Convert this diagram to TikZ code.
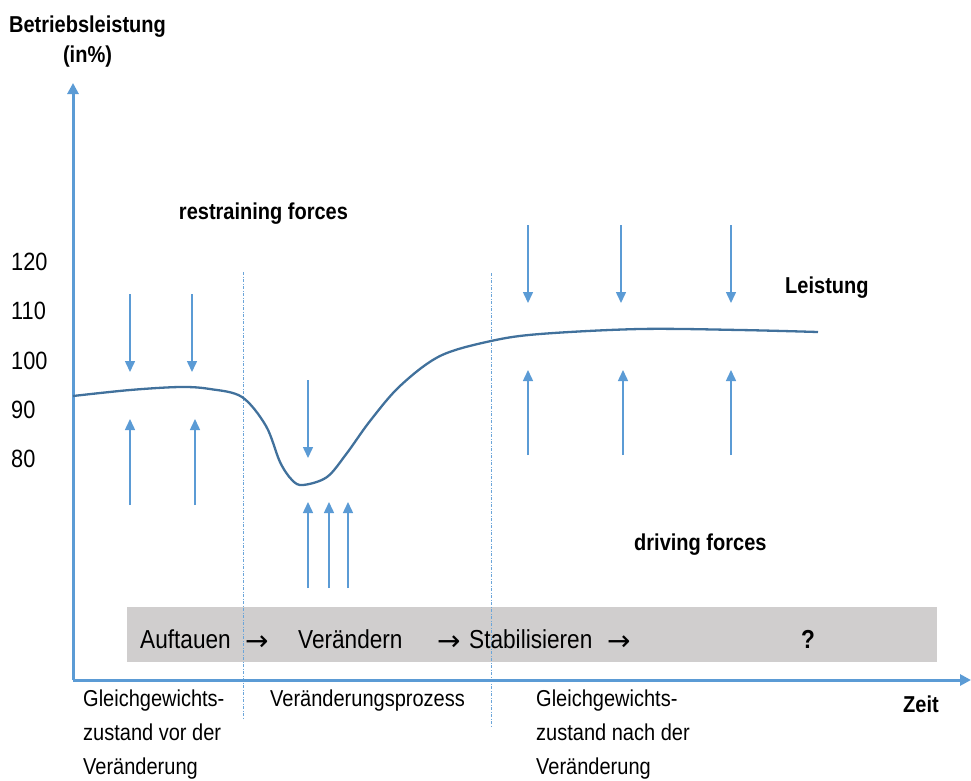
\documentclass[tikz,border=0pt]{standalone}
\usepackage{fontspec}
\setmainfont{Liberation Sans}[FakeStretch=0.87]
\newfontfamily\arrowfont{DejaVu Sans}
\usetikzlibrary{arrows.meta}
\definecolor{axisblue}{HTML}{5B9BD5}
\definecolor{curveblue}{HTML}{41719C}
\definecolor{bargray}{HTML}{D0CECE}
\begin{document}
\begin{tikzpicture}[x=1pt,y=-1pt,
  txt/.style={inner sep=0pt,font=\fontsize{23}{27}\selectfont},
  numtxt/.style={inner sep=0pt,font=\fontsize{25}{29}\selectfont,anchor=base west},
  btxt/.style={inner sep=0pt,font=\fontsize{23}{27}\selectfont\bfseries},
  bartxt/.style={inner sep=0pt,font=\fontsize{26}{30}\selectfont,anchor=base west},
  bararrow/.style={inner sep=0pt,font=\fontsize{28}{32}\arrowfont,anchor=base west},
  axisline/.style={draw=axisblue,line width=3pt,-{Triangle[width=11pt,length=11pt]}},
  force/.style={draw=axisblue,line width=1.5pt,-{Triangle[width=10pt,length=11pt]}},
  divider/.style={draw=axisblue!90,line width=1pt,dash pattern=on 3pt off 1.5pt on 1pt off 1.5pt},
  curve/.style={draw=curveblue,line width=2.3pt}]
\useasboundingbox (0,0) rectangle (971,780);

% gray bar
\node[fill=bargray,minimum width=810pt,minimum height=55pt,inner sep=0pt,anchor=north west] (bar) at (127,607) {};

% dividers
\coordinate (d1t) at (243,272); \coordinate (d1b) at (243,718);
\coordinate (d2t) at (491,273); \coordinate (d2b) at (491,727);
\draw[divider] (d1t) -- (d1b);
\draw[divider] (d2t) -- (d2b);

% axes
\coordinate (origin) at (73,680);
\coordinate (ytip) at (73,83);
\coordinate (xtip) at (971,680);
\draw[axisline] (origin) -- (ytip);
\draw[axisline] (origin) -- (xtip);

% performance curve
\draw[curve] plot[smooth,tension=0.55] coordinates {
 (73,396) (130,390) (180,387) (210,389) (242,397) (266,426) (280,462)
 (292,480) (303,485) (327,477) (347,453) (370,421) (400,386) (440,356)
 (491,341) (540,334) (640,329) (740,330) (818,332)};

% forces: left equilibrium
\foreach \n/\x in {a/130,b/192}{
  \coordinate (rs\n) at (\x,294); \coordinate (re\n) at (\x,372);
  \draw[force] (rs\n) -- (re\n);}
\foreach \n/\x in {a/130,b/195}{
  \coordinate (ds\n) at (\x,505); \coordinate (de\n) at (\x,419);
  \draw[force] (ds\n) -- (de\n);}
% forces: change
\coordinate (rsc) at (308,380); \coordinate (rec) at (308,458);
\draw[force] (rsc) -- (rec);
\foreach \n/\x in {c/308,d/329,e/348}{
  \coordinate (ds\n) at (\x,588); \coordinate (de\n) at (\x,502);
  \draw[force] (ds\n) -- (de\n);}
% forces: right equilibrium
\foreach \n/\x in {f/528,g/621,h/731}{
  \coordinate (rs\n) at (\x,225); \coordinate (re\n) at (\x,303);
  \draw[force] (rs\n) -- (re\n);}
\foreach \n/\x in {f/528,g/623,h/731}{
  \coordinate (ds\n) at (\x,455); \coordinate (de\n) at (\x,370);
  \draw[force] (ds\n) -- (de\n);}

% axis labels
\node[btxt,anchor=base] (ylab1) at (87.5,32) {Betriebsleistung};
\node[btxt,anchor=base] (ylab2) at (87.5,62) {(in\%)};
\node[numtxt] (n120) at (11,270) {120};
\node[numtxt] (n110) at (11,319) {110};
\node[numtxt] (n100) at (11,369) {100};
\node[numtxt] (n90) at (11,418) {90};
\node[numtxt] (n80) at (11,467) {80};
\node[btxt,anchor=base west] (zeit) at (903,712) {Zeit};

% force labels
\node[btxt,anchor=base] (restr) at (263.5,219) {restraining forces};
\node[btxt,anchor=base west] (leist) at (785,293) {Leistung};
\node[btxt,anchor=base west] (drive) at (634,550) {driving forces};

% bar texts
\node[bartxt] (auf) at (140,648) {Auftauen};
\node[bararrow] (ar1) at (245,650) {→};
\node[bartxt] (ver) at (298,648) {Verändern};
\node[bararrow] (ar2) at (437,650) {→};
\node[bartxt] (stab) at (469,648) {Stabilisieren};
\node[bararrow] (ar3) at (607,650) {→};
\node[inner sep=0pt,font=\fontsize{26}{30}\selectfont\bfseries,anchor=base] (q) at (808,648) {?};

% phase labels
\node[txt,anchor=base west] (g1a) at (83,706) {Gleichgewichts-};
\node[txt,anchor=base west] (g1b) at (83,740) {zustand vor der};
\node[txt,anchor=base west] (g1c) at (83,774) {Veränderung};
\node[txt,anchor=base west] (vp) at (270,706) {Veränderungsprozess};
\node[txt,anchor=base west] (g2a) at (536,706) {Gleichgewichts-};
\node[txt,anchor=base west] (g2b) at (536,740) {zustand nach der};
\node[txt,anchor=base west] (g2c) at (536,774) {Veränderung};
\end{tikzpicture}
\end{document}
